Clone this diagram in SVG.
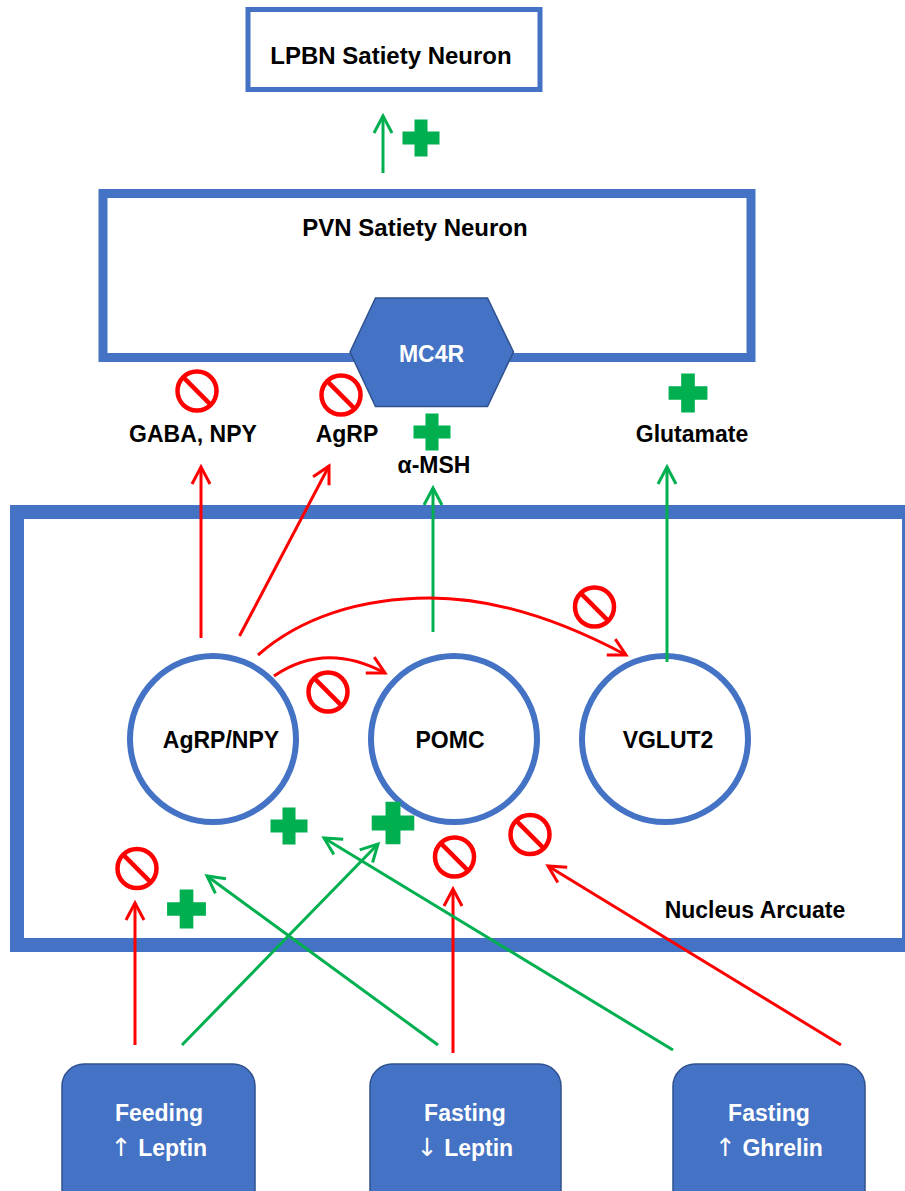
<svg xmlns="http://www.w3.org/2000/svg" width="905" height="1191" viewBox="0 0 905 1191">
<style>
text{font-family:"Liberation Sans",Arial,sans-serif;font-weight:bold;text-anchor:middle}
.t{font-size:23px;fill:#000}
.w{font-size:23px;fill:#fff}
.title{font-size:24px;fill:#000}
.arr{font-family:"DejaVu Sans",sans-serif;font-weight:normal;font-size:25px}
.frame{fill:#fff;stroke:#4472C4}
.cell{fill:#fff;stroke:#4472C4;stroke-width:6}
.src{fill:#4472C4;stroke:#2F528F;stroke-width:1.5}
.r{stroke:#FF0000;stroke-width:3;fill:none;marker-end:url(#ah-r)}
.g{stroke:#00B050;stroke-width:3;fill:none;marker-end:url(#ah-g)}
.no circle{fill:none;stroke:#FF0000;stroke-width:4.5}
.no line{stroke:#FF0000;stroke-width:4.5}
.plus{fill:#00B050}
</style>
<defs>
<marker id="ah-r" markerUnits="userSpaceOnUse" viewBox="0 0 20 20" refX="18" refY="10" markerWidth="20" markerHeight="20" orient="auto" overflow="visible">
<path d="M1,1 L18,10 L1,19" fill="none" stroke="#FF0000" stroke-width="3"/>
</marker>
<marker id="ah-g" markerUnits="userSpaceOnUse" viewBox="0 0 20 20" refX="18" refY="10" markerWidth="20" markerHeight="20" orient="auto" overflow="visible">
<path d="M1,1 L18,10 L1,19" fill="none" stroke="#00B050" stroke-width="3"/>
</marker>
<path id="plus" d="M-6.5,-18.5 h13 v12 h12 v13 h-12 v12 h-13 v-12 h-12 v-13 h12 z"/>
<g id="nosign" class="no">
<circle cx="0" cy="0" r="19.5"/>
<line x1="-13.8" y1="-13.8" x2="13.8" y2="13.8"/>
</g>
</defs>
<rect width="905" height="1191" fill="#fff"/>

<g id="arcuate">
<rect class="frame" x="17" y="512" width="892" height="433" stroke-width="14"/>
<text class="t" x="755" y="918">Nucleus Arcuate</text>
</g>

<g id="lpbn">
<rect class="frame" x="248" y="9.5" width="292" height="80" stroke-width="5"/>
<text class="title" x="391" y="64">LPBN Satiety Neuron</text>
</g>

<g id="pvn">
<rect class="frame" x="103" y="193.5" width="648" height="164" stroke-width="9"/>
<text class="title" x="415" y="236">PVN Satiety Neuron</text>
</g>

<g id="mc4r">
<polygon points="350,352 375.5,298 487.5,298 513.5,352 487.5,406.5 375.5,406.5" fill="#4472C4" stroke="#2F528F" stroke-width="1.5"/>
<text class="w" x="431.5" y="362">MC4R</text>
</g>

<g id="agrp-npy">
<circle class="cell" cx="213" cy="739" r="83"/>
<text class="t" x="221" y="748">AgRP/NPY</text>
</g>
<g id="pomc">
<circle class="cell" cx="454" cy="739" r="83"/>
<text class="t" x="450" y="748">POMC</text>
</g>
<g id="vglut2">
<circle class="cell" cx="665" cy="739" r="83"/>
<text class="t" x="668" y="748">VGLUT2</text>
</g>

<g id="feeding-leptin">
<rect class="src" x="62" y="1064" width="193" height="150" rx="22"/>
<text class="w" x="159" y="1121">Feeding</text>
<text class="w" x="159" y="1156"><tspan class="arr">↑</tspan> Leptin</text>
</g>
<g id="fasting-leptin">
<rect class="src" x="370" y="1064" width="191" height="150" rx="22"/>
<text class="w" x="465" y="1121">Fasting</text>
<text class="w" x="465" y="1156"><tspan class="arr">↓</tspan> Leptin</text>
</g>
<g id="fasting-ghrelin">
<rect class="src" x="673" y="1064" width="192" height="150" rx="22"/>
<text class="w" x="769" y="1121">Fasting</text>
<text class="w" x="769" y="1156"><tspan class="arr">↑</tspan> Ghrelin</text>
</g>

<g id="labels">
<text class="t" x="193" y="442">GABA, NPY</text>
<text class="t" x="347" y="442">AgRP</text>
<text class="t" x="434" y="473">α-MSH</text>
<text class="t" x="692" y="442">Glutamate</text>
</g>

<g id="connectors">
<line class="g" x1="383" y1="173" x2="383" y2="116"/>
<line class="r" x1="201" y1="638" x2="201" y2="467"/>
<line class="r" x1="239.5" y1="636" x2="329" y2="466"/>
<line class="g" x1="433" y1="632" x2="433" y2="488"/>
<line class="g" x1="667" y1="662" x2="667" y2="467"/>
<path class="r" d="M258,655 C300,618 360,598 430,598 C500,598 570,625 626,655"/>
<path class="r" d="M274,676 Q325,641 385,673"/>
<line class="r" x1="135" y1="1045" x2="135" y2="903"/>
<line class="g" x1="182" y1="1045" x2="378" y2="844"/>
<line class="g" x1="438" y1="1045" x2="207" y2="876"/>
<line class="r" x1="453" y1="1053" x2="453" y2="889"/>
<line class="g" x1="673" y1="1050" x2="324" y2="838"/>
<line class="r" x1="841" y1="1045" x2="548" y2="866"/>
</g>

<g id="signs">
<use href="#nosign" x="197" y="391"/>
<use href="#nosign" x="341" y="395"/>
<use href="#nosign" x="594.5" y="607"/>
<use href="#nosign" x="328" y="692"/>
<use href="#nosign" x="137" y="868.5"/>
<use href="#nosign" x="454.5" y="857"/>
<use href="#nosign" x="530" y="834.5"/>
<use href="#plus" class="plus" transform="translate(421,138)"/>
<use href="#plus" class="plus" transform="translate(432,432)"/>
<use href="#plus" class="plus" transform="translate(688,393) scale(1.05)"/>
<use href="#plus" class="plus" transform="translate(289,826)"/>
<use href="#plus" class="plus" transform="translate(393,823) scale(1.15)"/>
<use href="#plus" class="plus" transform="translate(186.5,909) scale(1.05)"/>
</g>
</svg>
